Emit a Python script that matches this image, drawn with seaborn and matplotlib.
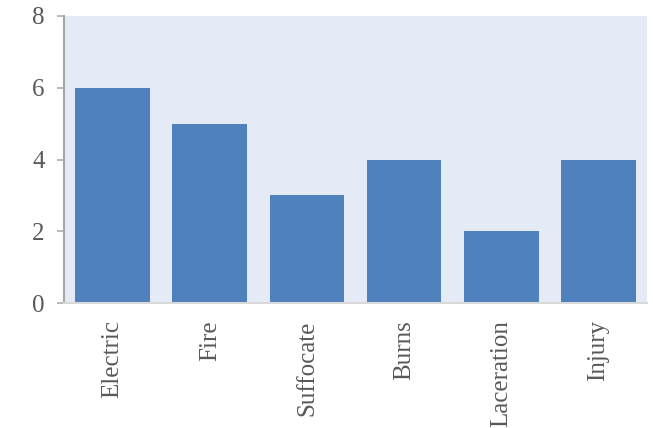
import matplotlib
matplotlib.use("Agg")
import matplotlib.pyplot as plt
import seaborn as sns
import pandas as pd

categories = ["Electric", "Fire", "Suffocate", "Burns", "Laceration", "Injury"]
values = [6, 5, 3, 4, 2, 4]
yticks = [0, 2, 4, 6, 8]

sns.set_style("white")
plt.rcParams['font.family'] = ['Liberation Serif', 'DejaVu Serif']

df = pd.DataFrame({"cat": categories, "val": values})

fig = plt.figure(figsize=(6.53, 4.28), dpi=100)
ax = fig.add_axes([64/653, (428-303)/428, (647-64)/653, (303-16)/428])
ax.set_facecolor("#E4EBF6")
sns.barplot(data=df, x="cat", y="val", color="#4F81BD", saturation=1, width=0.77,
            linewidth=0, ax=ax)
ax.set_xlim(-0.5, len(categories) - 0.5)
ax.set_ylim(0, 8)
ax.set_yticks(yticks)
ax.set_xlabel("")
ax.set_ylabel("")
for s in ["top", "right"]:
    ax.spines[s].set_visible(False)
ax.spines["left"].set_color("#A6A6A6")
ax.spines["left"].set_linewidth(1.5)
ax.spines["bottom"].set_color("#D9D9D9")
ax.spines["bottom"].set_linewidth(1.5)
ax.tick_params(axis="y", which="both", left=True, length=5, width=1.1, color="#A6A6A6",
               labelsize=18, labelcolor="#595959", pad=9)
ax.tick_params(axis="x", bottom=False, labelsize=18, labelcolor="#595959", pad=9)
plt.setp(ax.get_xticklabels(), rotation=90)
fig.savefig("out.png", dpi=100)
